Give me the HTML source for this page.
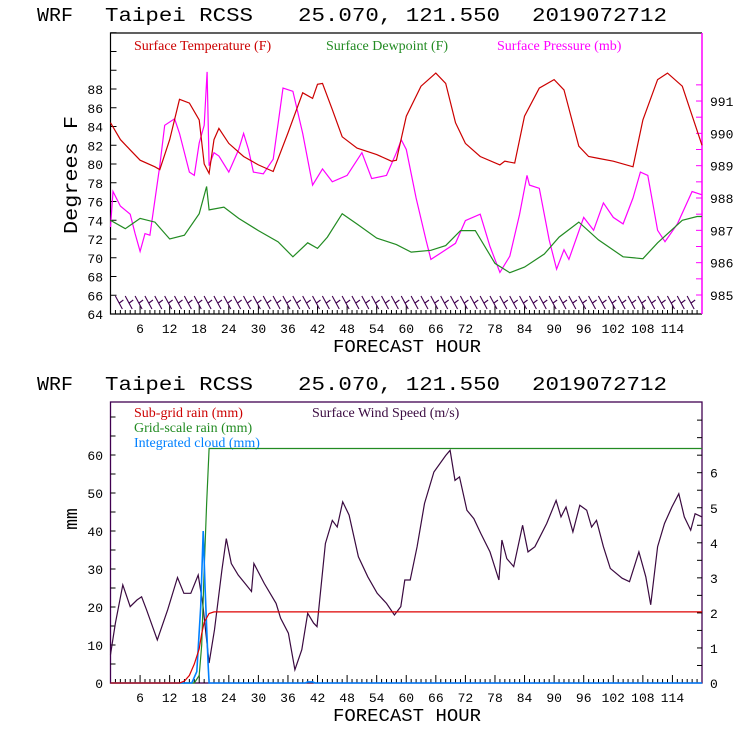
<!DOCTYPE html>
<html><head><meta charset="utf-8"><style>
html,body{margin:0;padding:0;background:#fff;width:740px;height:740px;overflow:hidden}
svg{display:block}
text{font-family:"Liberation Mono",monospace}
.lg{font-family:"Liberation Serif",serif;font-size:14px}
</style></head><body>
<svg id="c" width="740" height="740" xmlns="http://www.w3.org/2000/svg"></svg>
<script>
// ---- top panel data ----
const tHours=[0,2,4,6,9,10,12,14,16,18,19,20,21,22,24,27,30,33,36,39,41,42,43,45,47,50,54,57,58,60,63,66,68,70,72,75,79,80,82,84,87,90,92,95,97,99,102,106,108,111,113,116,120];
const tempF=[84.4,82.6,81.5,80.4,79.7,79.4,82.6,86.9,86.5,84.7,80,79,82.6,83.8,82.2,80.8,79.9,79.2,83.3,87.6,87,88.5,88.6,85.8,82.9,81.7,81,80.3,80.4,85.1,88.3,89.7,88.6,84.4,82.2,80.8,79.9,80.3,80.1,85.1,88.1,89,87.9,81.9,80.8,80.6,80.3,79.7,84.7,89,89.7,88.3,82];
const dHours=[0,3,6,9,12,15,18,19.5,20,23,26,30,34,37,40,42,44,47,50,54,58,61,65,68,71,74,78,81,84,88,91,95,99,104,108,111,116,119,120];
const dewF=[74,73.1,74.2,73.8,72,72.4,74.7,77.6,75.1,75.4,74.2,72.9,71.7,70.1,71.6,71,72.2,74.7,73.6,72.1,71.4,70.6,70.8,71.3,72.9,72.9,69.4,68.4,69,70.4,72.2,73.8,71.9,70.1,69.9,71.6,74,74.4,74.4];
const pHours=[0,0.5,2,4,5,6,7,8,10,11,13,14,16,17,18,19,19.6,20,21,22,24,26,27,28,29,31,33,35,37,39,41,43,45,48,51,53,56,58,59,60,62,64,65,67,70,72,75,77,79,81,83,84.5,85,87,89,90.5,92,93,96,98,100,102,104,106,107.5,109,111,112.5,115,118,120];
const presMb=[987.1,988.2,987.75,987.5,986.9,986.35,986.9,986.85,989,990.25,990.45,990,988.8,988.7,989.7,990.25,991.9,989,989.4,989.3,988.8,989.5,990,989.5,988.8,988.75,989.2,991.4,991.3,990,988.4,988.9,988.5,988.7,989.4,988.6,988.7,989.4,989.8,989.5,988,986.7,986.1,986.3,986.6,987.3,987.5,986.5,985.7,986.2,987.5,988.7,988.4,988.3,986.7,985.8,986.4,986.1,987.4,987,987.85,987.4,987.2,988,988.8,988.7,987,986.65,987.2,988.2,988.1];
const tempTicks=[64,66,68,70,72,74,76,78,80,82,84,86,88];
const presTicks=[985,986,987,988,989,990,991];
const hourTicks=[6,12,18,24,30,36,42,48,54,60,66,72,78,84,90,96,102,108,114];
// ---- bottom panel data ----
const wHours=[0,1,2.5,4,5.4,6.3,7.3,9.5,11.6,13.6,14.9,16.3,17.8,18.7,20,21.1,22.6,23.5,24.5,25.9,27.3,28.6,29.1,31.2,33.6,34.5,36.1,37.4,38.8,40,41.2,41.9,43.6,45,46,47.1,48.4,50.3,52.2,54.1,56,57.6,58.9,59.7,60.8,62.2,63.7,65.6,68,68.9,69.9,70.8,72.3,73.7,75.1,77,78.8,79.4,80.4,81.8,83.6,84.7,86.1,88.5,90.4,91.4,92.4,93.8,95.2,96.6,97.6,98.6,100,101.4,103.8,105.3,107.2,108.6,109.6,111,112.4,113.9,115.3,116.4,117.7,118.6,120];
const windMs=[0.81,1.71,2.8,2.18,2.37,2.46,2.09,1.23,2.09,3.01,2.56,2.56,3.08,2.27,0.57,1.52,3.22,4.12,3.41,3.08,2.84,2.61,3.41,2.84,2.27,1.85,1.42,0.38,0.95,1.99,1.71,1.61,3.98,4.64,4.45,5.17,4.79,3.6,3.03,2.56,2.27,1.94,2.18,2.94,2.94,3.89,5.12,6.02,6.49,6.64,5.78,5.88,4.93,4.69,4.27,3.74,2.94,4.08,3.55,3.32,4.5,3.74,3.89,4.55,5.21,4.74,5.02,4.31,5.07,4.93,4.45,4.64,3.89,3.27,2.99,2.89,3.74,3.03,2.23,3.89,4.55,5.02,5.4,4.74,4.36,4.83,4.74];
const sHours=[0,14,15,16,17,18,18.5,19,20,21,120];
const subRain=[0,0,0.5,2,5,9,13,16,18.3,18.7,18.7];
const gHours=[0,17,18,18.5,19,19.5,20,120];
const gridRain=[0,0,2,10,30,47,61.7,61.7];
const cHours=[0,16.5,17.5,18.3,18.8,19.2,19.5,19.8,20,39.5,40,41,41.5,120];
const cloudMm=[0,0,3,20,40,25,15,5,0,0,0.3,0.3,0,0];
const mmTicks=[0,10,20,30,40,50,60];
const windTicks=[0,1,2,3,4,5,6];

const NS="http://www.w3.org/2000/svg";
const svg=document.getElementById('c');
function el(tag,attrs,parent){const e=document.createElementNS(NS,tag);for(const k in attrs)e.setAttribute(k,attrs[k]);(parent||svg).appendChild(e);return e;}
const X0=110.5,X1=702;
const x=h=>X0+(X1-X0)*h/120;
const yT=v=>314-(v-64)*9.375;
const yP=v=>295-(v-985)*32.33;
const yM=v=>683-v*3.8;
const yW=v=>683-v*35.05;
function path(hs,vs,sy,color,name,w){const d=hs.map((h,i)=>(i?'L':'M')+x(h).toFixed(1)+','+sy(vs[i]).toFixed(1)).join('');const p=el('path',{d:d,fill:'none',stroke:color,'stroke-width':w||1.2});


return p;}
function txt(s,xx,yy,attrs,name){const t=el('text',Object.assign({x:xx,y:yy},attrs||{}));t.textContent=s;


return t;}
function title(y0,name){
  const parts=[['WRF',37,36],['Taipei RCSS',105,148],['25.070, 121.550',298,202],['2019072712',532,135]];
  parts.forEach(p=>txt(p[0],p[1],y0,{'font-size':19,textLength:p[2],lengthAdjust:'spacingAndGlyphs'},name));
}
title(21,'top-title');
title(390,'bottom-title');

// ===== top panel =====
const topG=el('g',{});


el('path',{d:`M${X1},33H${X0}V314H${X1}`,fill:'none',stroke:'#000','stroke-width':1.2},topG);
el('line',{x1:X1,y1:33,x2:X1,y2:314,stroke:'#ff00ff','stroke-width':1.5},topG);
for(let v=64;v<=94;v+=2){el('line',{x1:X0,x2:X0+6,y1:yT(v),y2:yT(v),stroke:'#000'},topG);}
tempTicks.forEach(v=>txt(String(v),103,yT(v)+5,{'font-size':13,'text-anchor':'end'},'y-tick-label'));
for(let v=985;v<=991.8;v+=0.5){el('line',{x1:X1,x2:X1-6,y1:yP(v),y2:yP(v),stroke:'#ff00ff'},topG);}
presTicks.forEach(v=>txt(String(v),710,yP(v)+5,{'font-size':13},'y2-tick-label'));
for(let h=1;h<120;h++){el('line',{x1:x(h),x2:x(h),y1:314,y2:h%6?310:305,stroke:'#000'},topG);}
hourTicks.forEach(h=>txt(String(h),x(h),333,{'font-size':13,'text-anchor':'middle'},'x-tick-label'));
txt('FORECAST HOUR',407,352,{'font-size':18,'text-anchor':'middle',textLength:148,lengthAdjust:'spacingAndGlyphs'},'x-axis-title');
txt('Degrees F',0,0,{'font-size':19,'text-anchor':'middle',transform:'translate(77,175) rotate(-90)',textLength:118,lengthAdjust:'spacingAndGlyphs'},'y-axis-title');
txt('Surface Temperature (F)',134,50,{class:'lg',fill:'#cc0000'},'legend-temperature');
txt('Surface Dewpoint (F)',326,50,{class:'lg',fill:'#228b22'},'legend-dewpoint');
txt('Surface Pressure (mb)',497,50,{class:'lg',fill:'#ff00ff'},'legend-pressure');
path(pHours,presMb,yP,'#ff00ff','pressure-line');
path(dHours,dewF,yT,'#228b22','dewpoint-line');
path(tHours,tempF,yT,'#cc0000','temperature-line');
for(let h=2;h<=118;h+=2){const bx=x(h);const b=el('path',{d:`M${bx-5},296L${bx+2},309M${bx-1},303l4,-3`,fill:'none',stroke:'#400050','stroke-width':1.1},topG);

}

// ===== bottom panel =====
const botG=el('g',{});


el('rect',{x:X0,y:402,width:X1-X0,height:281,fill:'none',stroke:'#400050','stroke-width':1.3},botG);
for(let v=0;v<=70;v+=5){el('line',{x1:X0,x2:X0+5,y1:yM(v),y2:yM(v),stroke:'#000'},botG);}
mmTicks.forEach(v=>txt(String(v),103,yM(v)+5,{'font-size':13,'text-anchor':'end'},'y-tick-label'));
for(let v=0;v<=7.5;v+=0.5){el('line',{x1:X1,x2:X1-5,y1:yW(v),y2:yW(v),stroke:'#000'},botG);}
windTicks.forEach(v=>txt(String(v),710,yW(v)+5,{'font-size':13},'y2-tick-label'));
for(let h=1;h<120;h++){el('line',{x1:x(h),x2:x(h),y1:683,y2:h%6?679:675,stroke:'#000'},botG);}
hourTicks.forEach(h=>txt(String(h),x(h),702,{'font-size':13,'text-anchor':'middle'},'x-tick-label'));
txt('FORECAST HOUR',407,721,{'font-size':18,'text-anchor':'middle',textLength:148,lengthAdjust:'spacingAndGlyphs'},'x-axis-title');
txt('mm',0,0,{'font-size':18,'text-anchor':'middle',transform:'translate(77,519) rotate(-90)'},'y-axis-title');
txt('Sub-grid rain (mm)',134,417,{class:'lg',fill:'#cc0000'},'legend-subgrid-rain');
txt('Surface Wind Speed (m/s)',312,417,{class:'lg',fill:'#3a0a40'},'legend-wind-speed');
txt('Grid-scale rain (mm)',134,432,{class:'lg',fill:'#228b22'},'legend-grid-rain');
txt('Integrated cloud (mm)',134,447,{class:'lg',fill:'#0080ff'},'legend-cloud');
path(wHours,windMs,yW,'#3a0a40','wind-speed-line');
path(gHours,gridRain,yM,'#228b22','grid-rain-line');
path(cHours,cloudMm,yM,'#0080ff','cloud-line',1.6);
path(sHours,subRain,yM,'#dd0000','subgrid-rain-line');
</script>
</body></html>
